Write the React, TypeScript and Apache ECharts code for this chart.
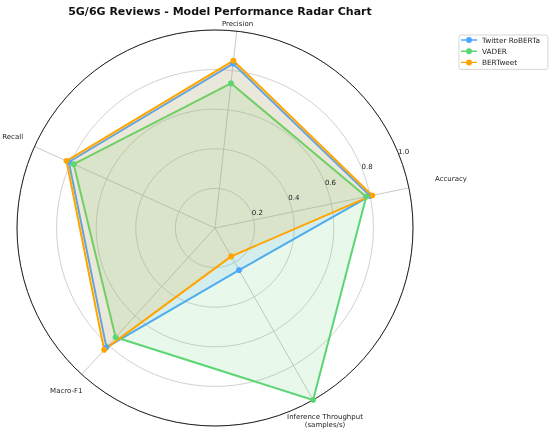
import React, { useEffect, useRef } from "react";
import * as echarts from "echarts";

const indicatorNames = [
  "Accuracy",
  "Precision",
  "Recall",
  "Macro-F1",
  "Inference Throughput\n(samples/s)",
];
const seriesNames = ["Twitter RoBERTa", "VADER", "BERTweet"];
const twitterRoberta = [0.8, 0.835, 0.81, 0.815, 0.245];
const vader = [0.78, 0.735, 0.783, 0.746, 1.0];
const bertweet = [0.811, 0.85, 0.823, 0.832, 0.165];
const radialTicks = [0.2, 0.4, 0.6, 0.8, 1.0];

const COLORS = ["#4da6ff", "#5cd675", "#ffa500"];
const CX = 215;
const CY = 228;
const R = 198;
const START = 11.7;
const NAME_DIST = [241, 205, 222, 221, 222];
const FONT = "DejaVu Sans";

export default function App() {
  const ref = useRef<HTMLDivElement>(null);
  useEffect(() => {
    if (!ref.current) return;
    const chart = echarts.init(ref.current, null, { renderer: "svg" });
    const values = [twitterRoberta, vader, bertweet];
    const n = indicatorNames.length;
    const nameGraphics = indicatorNames.map((name, i) => {
      const a = ((START + (360 / n) * i) * Math.PI) / 180;
      return {
        type: "text",
        x: CX + NAME_DIST[i] * Math.cos(a),
        y: CY - NAME_DIST[i] * Math.sin(a),
        silent: true,
        style: {
          text: name,
          fontSize: 7,
          fontFamily: FONT,
          fill: "#222",
          align: "center",
          verticalAlign: "middle",
          lineHeight: 8.5,
        },
      };
    });
    const legendIcon =
      "path://M0,2.3h5v1.4h-5z M11,2.3h5v1.4h-5z M5,3a3,3 0 1,1 6,0a3,3 0 1,1 -6,0z";
    chart.setOption({
      animation: false,
      textStyle: { fontFamily: FONT },
      title: {
        text: "5G/6G Reviews - Model Performance Radar Chart",
        left: CX,
        top: 1,
        textAlign: "center",
        textStyle: {
          fontSize: 11,
          fontWeight: "bold",
          fontFamily: FONT,
          color: "#111",
        },
      },
      legend: {
        orient: "vertical",
        left: 459,
        top: 35,
        padding: [1, 8, 3, 2],
        itemGap: 3.2,
        itemWidth: 16,
        itemHeight: 6,
        borderColor: "#d6d6d6",
        borderWidth: 1,
        borderRadius: 2,
        textStyle: {
          fontSize: 7.3,
          fontFamily: FONT,
          color: "#222",
          lineHeight: 8,
        },
        data: seriesNames.map((name, i) => ({
          name,
          icon: legendIcon,
          itemStyle: { color: COLORS[i] },
        })),
      },
      polar: { center: [CX, CY], radius: R },
      angleAxis: {
        type: "value",
        min: 0,
        max: 360,
        startAngle: 22.5,
        axisLine: { show: true, lineStyle: { color: "#222", width: 1 } },
        axisTick: { show: false },
        axisLabel: { show: false },
        splitLine: { show: false },
        z: 1,
      },
      radiusAxis: {
        type: "value",
        min: 0,
        max: 1,
        interval: 0.2,
        axisLine: { show: false },
        axisTick: { show: false },
        splitLine: { show: false },
        axisLabel: {
          show: true,
          margin: 0,
          align: "center",
          verticalAlign: "middle",
          padding: [0, 0, 9, 11.4],
          fontSize: 7,
          fontFamily: FONT,
          color: "#222",
          formatter: (v: number) =>
            radialTicks.some((t) => Math.abs(t - v) < 1e-6) ? v.toFixed(1) : "",
        },
        z: 20,
      },
      radar: {
        center: [CX, CY],
        radius: R,
        startAngle: START,
        shape: "circle",
        splitNumber: 5,
        indicator: indicatorNames.map((name) => ({ name, min: 0, max: 1 })),
        axisName: { show: false },
        splitArea: { show: false },
        splitLine: { lineStyle: { color: "#cccccc", width: 0.9 } },
        axisLine: { lineStyle: { color: "#c4c4c4", width: 0.9 } },
        axisTick: { show: false },
        axisLabel: { show: false },
      },
      series: seriesNames.map((name, i) => ({
        type: "radar",
        name,
        symbol: "circle",
        symbolSize: 6,
        itemStyle: { color: COLORS[i] },
        lineStyle: { color: COLORS[i], width: 2 },
        areaStyle: { color: COLORS[i], opacity: 0.14 },
        data: [{ name, value: values[i] }],
      })),
      graphic: nameGraphics,
    });
    return () => chart.dispose();
  }, []);
  return (
    <div
      ref={ref}
      style={{ position: "fixed", left: 0, top: 0, width: 550, height: 430 }}
    />
  );
}
